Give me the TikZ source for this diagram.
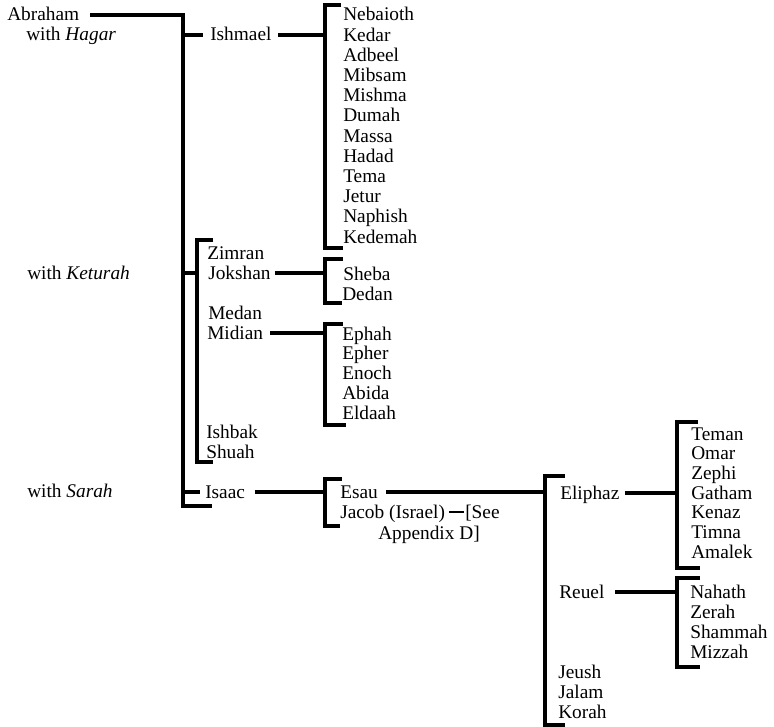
\documentclass[tikz,border=0pt]{standalone}
\usepackage{fontspec}
\setmainfont{Liberation Serif}
\begin{document}
\begin{tikzpicture}[x=0.75pt,y=-0.75pt,
  nm/.style={anchor=base west, inner sep=0pt, text height=11pt, text depth=2pt, font=\fontsize{14.5}{15}\selectfont},
  ln/.style={line width=2.3pt, line cap=butt}]
\useasboundingbox (0,0) rectangle (774,727);
% left column
\node[nm] (abraham) at (7,21) {Abraham};
\node[nm] (hagar) at (26,41) {with \textit{Hagar}};
\node[nm] (keturah) at (27,279) {with \textit{Keturah}};
\node[nm] (sarah) at (27,497) {with \textit{Sarah}};
% sons
\node[nm] (ishmael) at (210,41) {Ishmael};
\node[nm] (zimran) at (207,259) {Zimran};
\node[nm] (jokshan) at (208,279) {Jokshan};
\node[nm] (medan) at (208,319) {Medan};
\node[nm] (midian) at (207,339) {Midian};
\node[nm] (ishbak) at (206,438) {Ishbak};
\node[nm] (shuah) at (206,458) {Shuah};
\node[nm] (isaac) at (205,498) {Isaac};
% Ishmael's sons
\foreach \n [count=\i from 0] in {Nebaioth,Kedar,Adbeel,Mibsam,Mishma,Dumah,Massa,Hadad,Tema,Jetur,Naphish,Kedemah}
  \node[nm] (is\i) at (343,21+20.2*\i) {\n};
% Jokshan's sons
\node[nm] (sheba) at (343,280) {Sheba};
\node[nm] (dedan) at (342,300) {Dedan};
% Midian's sons
\foreach \n [count=\i from 0] in {Ephah,Epher,Enoch,Abida,Eldaah}
  \node[nm] (mi\i) at (342,340+19.9*\i) {\n};
% Isaac's sons
\node[nm] (esau) at (340,498) {Esau};
\node[nm] (jacob) at (340,518) {Jacob (Israel)};
\node[nm] (see) at (465,518) {[See};
\node[nm] (appd) at (378,539) {Appendix D]};
% Esau's sons
\node[nm] (eliphaz) at (560,499) {Eliphaz};
\node[nm] (reuel) at (559,598) {Reuel};
\node[nm] (jeush) at (558,678) {Jeush};
\node[nm] (jalam) at (558,698) {Jalam};
\node[nm] (korah) at (558,718) {Korah};
% Eliphaz's sons
\foreach \n [count=\i from 0] in {Teman,Omar,Zephi,Gatham,Kenaz,Timna,Amalek}
  \node[nm] (el\i) at (691,440+19.7*\i) {\n};
% Reuel's sons
\foreach \n [count=\i from 0] in {Nahath,Zerah,Shammah,Mizzah}
  \node[nm] (re\i) at (690,598+20*\i) {\n};
% bracket coordinates
\coordinate (mainT) at (183,16);
\coordinate (mainB) at (183,506);
\coordinate (ishT) at (325,5);
\coordinate (ishB) at (325,248);
\coordinate (ketT) at (197,240);
\coordinate (ketB) at (197,462);
\coordinate (shT) at (325,259);
\coordinate (shB) at (325,303);
\coordinate (miT) at (325,324);
\coordinate (miB) at (325,425);
\coordinate (esT) at (325,479);
\coordinate (esB) at (325,526);
\coordinate (elT) at (545,476);
\coordinate (elB) at (545,725);
\coordinate (teT) at (677,422);
\coordinate (teB) at (677,568);
\coordinate (naT) at (677,578);
\coordinate (naB) at (677,667);
% lines
\begin{scope}[ln]
\draw ([xshift=8pt]abraham.east) -- (abraham.east -| mainT) -- (mainB) -- ++(29,0);
\draw (ishmael.west -| mainT) -- ([xshift=-5pt]ishmael.west);
\draw ([xshift=5pt]ishmael.east) -- (ishmael.east -| ishT);
\draw (ishT) ++(16,0) -- (ishT) -- (ishB) -- ++(18,0);
\draw (jokshan.west -| mainT) -- (jokshan.west -| ketT);
\draw (ketT) ++(16,0) -- (ketT) -- (ketB) -- ++(16,0);
\draw ([xshift=3pt]jokshan.east) -- (jokshan.east -| shT);
\draw (shT) ++(18,0) -- (shT) -- (shB) -- ++(17,0);
\draw ([xshift=5pt]midian.east) -- (midian.east -| miT);
\draw (miT) ++(18,0) -- (miT) -- (miB) -- ++(21,0);
\draw (isaac.west -| mainT) -- ([xshift=-4pt]isaac.west);
\draw ([xshift=7pt]isaac.east) -- (isaac.east -| esT);
\draw (esT) ++(17,0) -- (esT) -- (esB) -- ++(15,0);
\draw ([xshift=6pt]esau.east) -- (esau.east -| elT);
\draw (elT) ++(20,0) -- (elT) -- (elB) -- ++(20,0);
\draw[line width=1.5pt] ([xshift=3pt]jacob.east) -- ([xshift=-0.5pt]see.west);
\draw ([xshift=4pt]eliphaz.east) -- (eliphaz.east -| teT);
\draw (teT) ++(21,0) -- (teT) -- (teB) -- ++(23,0);
\draw ([xshift=8pt]reuel.east) -- (reuel.east -| naT);
\draw (naT) ++(23,0) -- (naT) -- (naB) -- ++(23,0);
\end{scope}
\end{tikzpicture}
\end{document}
